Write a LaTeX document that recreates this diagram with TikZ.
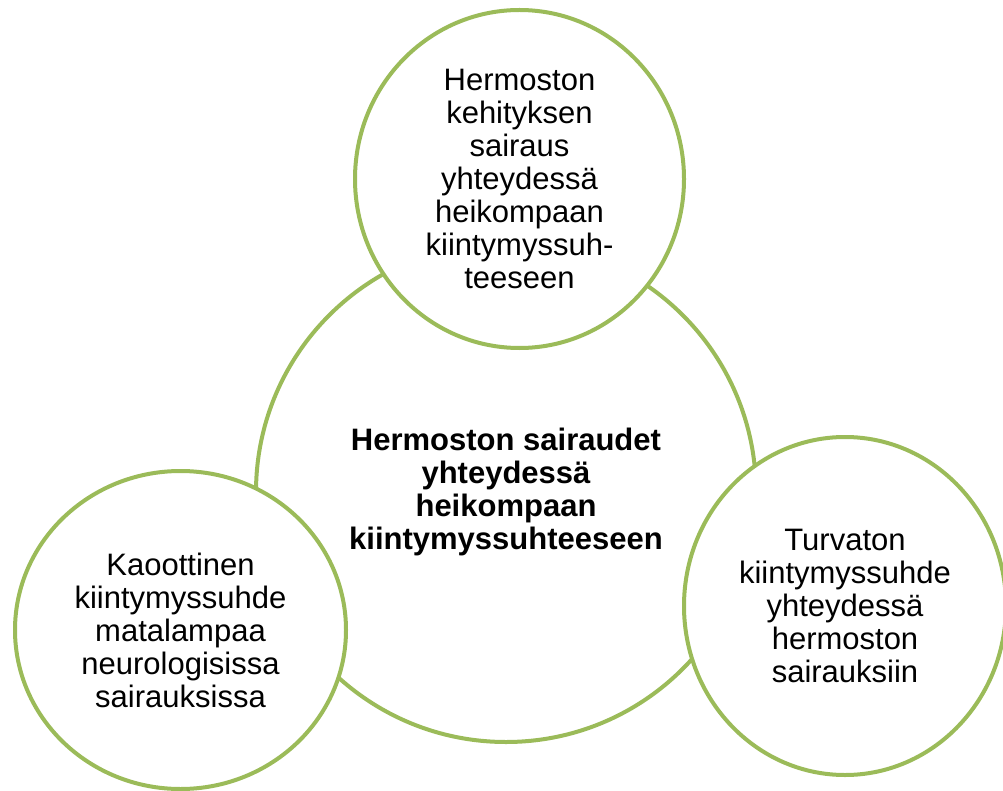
\documentclass[tikz,border=0pt]{standalone}
\usepackage{fontspec}
\setmainfont{Liberation Sans}
\usepackage{xcolor}
\usepackage{tikz}
\usetikzlibrary{positioning, shapes.geometric}

\definecolor{leafgreen}{HTML}{9BBB59}

\begin{document}
\begin{tikzpicture}[x=1pt, y=-1pt,
    bubble/.style={ellipse, draw=leafgreen, line width=4pt, fill=white,
      inner sep=0pt, align=center, font=\fontsize{31}{33}\selectfont}]
        \useasboundingbox (0,0) rectangle (1003,791);

        % Middle
        \node[bubble, minimum width=500, minimum height=500,
          font=\fontsize{31}{33}\selectfont\bfseries] (core) at (506,492)
          {Hermoston sairaudet\\yhteydessä\\heikompaan\\kiintymyssuhteeseen};

        % Around
        \node[bubble, minimum width=329, minimum height=338] (top) at (519.5,179)
          {Hermoston\\kehityksen\\sairaus\\yhteydessä\\heikompaan\\kiintymyssuh-\\teeseen};
        \node[bubble, minimum width=331, minimum height=318] (left) at (180.5,630)
          {Kaoottinen\\kiintymyssuhde\\matalampaa\\neurologisissa\\sairauksissa};
        \node[bubble, minimum width=322, minimum height=338] (right) at (845,606)
          {Turvaton\\kiintymyssuhde\\yhteydessä\\hermoston\\sairauksiin};
      \end{tikzpicture}
\end{document}
